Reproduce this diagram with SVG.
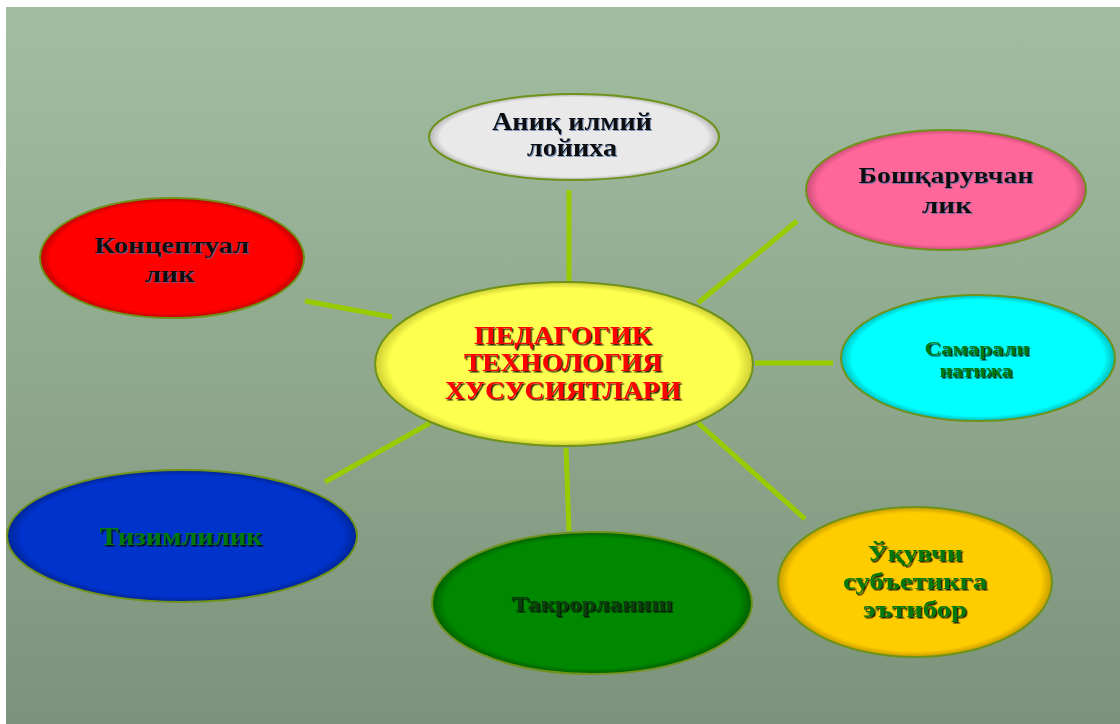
<svg xmlns="http://www.w3.org/2000/svg" width="1120" height="724" viewBox="0 0 1120 724">
<defs>
<linearGradient id="bg" x1="0" y1="0" x2="0" y2="1">
<stop offset="0" stop-color="#a2bea1"/>
<stop offset="1" stop-color="#7c937b"/>
</linearGradient>
<radialGradient id="gWhite"><stop offset="0.92" stop-color="#e9e9e9"/><stop offset="1" stop-color="#b5b5b5"/></radialGradient>
<radialGradient id="gPink"><stop offset="0.92" stop-color="#ff6699"/><stop offset="1" stop-color="#c94f78"/></radialGradient>
<radialGradient id="gRed"><stop offset="0.92" stop-color="#ff0000"/><stop offset="1" stop-color="#bb0000"/></radialGradient>
<radialGradient id="gCyan"><stop offset="0.92" stop-color="#00ffff"/><stop offset="1" stop-color="#00bcbc"/></radialGradient>
<radialGradient id="gYellow"><stop offset="0.92" stop-color="#ffff4f"/><stop offset="1" stop-color="#cccc33"/></radialGradient>
<radialGradient id="gBlue"><stop offset="0.92" stop-color="#0033cc"/><stop offset="1" stop-color="#002494"/></radialGradient>
<radialGradient id="gGreen"><stop offset="0.92" stop-color="#008800"/><stop offset="1" stop-color="#005e00"/></radialGradient>
<radialGradient id="gOrange"><stop offset="0.92" stop-color="#ffcc00"/><stop offset="1" stop-color="#c49c00"/></radialGradient>
<filter id="shDark" x="-10%" y="-20%" width="120%" height="140%">
<feDropShadow dx="1.5" dy="1.5" stdDeviation="0.3" flood-color="#000" flood-opacity="0.85"/>
</filter>
<filter id="shLight" x="-10%" y="-20%" width="120%" height="140%">
<feDropShadow dx="1" dy="1" stdDeviation="0.3" flood-color="#4d6fa8" flood-opacity="0.7"/>
</filter>
</defs>
<style>
.node ellipse { stroke: #6f921a; stroke-width: 2; }
text { font-family: "Liberation Serif", "Times New Roman", serif; font-weight: bold; text-anchor: middle; }
.blk { fill: #111; filter: url(#shLight); }
.grn { fill: #00780a; filter: url(#shDark); }
.red { fill: #ff0000; filter: url(#shDark); }
.dgr { fill: #0b3d0b; filter: url(#shDark); }
#connectors line { stroke: #99cc00; stroke-width: 5; }
</style>
<rect x="0" y="0" width="1120" height="724" fill="#ffffff"/>
<rect x="6" y="7" width="1114" height="717" fill="url(#bg)"/>
<g id="connectors">
<line x1="569" y1="190" x2="569" y2="281"/>
<line x1="698" y1="303" x2="797" y2="221"/>
<line x1="305" y1="301" x2="392" y2="317"/>
<line x1="755" y1="363" x2="833" y2="363"/>
<line x1="325" y1="482" x2="430" y2="423"/>
<line x1="566" y1="448" x2="569" y2="531"/>
<line x1="698" y1="423" x2="805" y2="519"/>
</g>
<g id="node-top" class="node">
<ellipse cx="574" cy="137" rx="145" ry="43" fill="url(#gWhite)"/>
<text class="blk" x="572" y="130" font-size="25" textLength="160" lengthAdjust="spacingAndGlyphs">Аниқ илмий</text>
<text class="blk" x="572" y="156" font-size="25" textLength="90" lengthAdjust="spacingAndGlyphs">лойиха</text>
</g>
<g id="node-pink" class="node">
<ellipse cx="946" cy="190" rx="140" ry="60" fill="url(#gPink)"/>
<text class="blk" x="946" y="183" font-size="24" textLength="175" lengthAdjust="spacingAndGlyphs">Бошқарувчан</text>
<text class="blk" x="947" y="213" font-size="24" textLength="50" lengthAdjust="spacingAndGlyphs">лик</text>
</g>
<g id="node-red" class="node">
<ellipse cx="172" cy="258" rx="132" ry="60" fill="url(#gRed)"/>
<text class="blk" x="172" y="253" font-size="24" textLength="155" lengthAdjust="spacingAndGlyphs">Концептуал</text>
<text class="blk" x="170" y="282" font-size="24" textLength="50" lengthAdjust="spacingAndGlyphs">лик</text>
</g>
<g id="node-center" class="node">
<ellipse cx="564" cy="364" rx="189" ry="82" fill="url(#gYellow)"/>
<text class="red" x="563" y="344" font-size="26" textLength="178" lengthAdjust="spacingAndGlyphs">ПЕДАГОГИК</text>
<text class="red" x="563" y="371" font-size="26" textLength="198" lengthAdjust="spacingAndGlyphs">ТЕХНОЛОГИЯ</text>
<text class="red" x="563" y="399" font-size="26" textLength="236" lengthAdjust="spacingAndGlyphs">ХУСУСИЯТЛАРИ</text>
</g>
<g id="node-cyan" class="node">
<ellipse cx="978" cy="358" rx="137" ry="63" fill="url(#gCyan)"/>
<text class="grn" x="977" y="355" font-size="19" textLength="105" lengthAdjust="spacingAndGlyphs">Самарали</text>
<text class="grn" x="976" y="377" font-size="19" textLength="73" lengthAdjust="spacingAndGlyphs">натижа</text>
</g>
<g id="node-blue" class="node">
<ellipse cx="182" cy="536" rx="175" ry="66" fill="url(#gBlue)"/>
<text class="grn" x="181" y="545" font-size="26" textLength="163" lengthAdjust="spacingAndGlyphs">Тизимлилик</text>
</g>
<g id="node-green" class="node">
<ellipse cx="592" cy="603" rx="160" ry="71" fill="url(#gGreen)"/>
<text class="dgr" x="592" y="611" font-size="22" textLength="161" lengthAdjust="spacingAndGlyphs">Такрорланиш</text>
</g>
<g id="node-orange" class="node">
<ellipse cx="915" cy="582" rx="137" ry="75" fill="url(#gOrange)"/>
<text class="grn" x="915" y="561" font-size="24" textLength="95" lengthAdjust="spacingAndGlyphs">Ўқувчи</text>
<text class="grn" x="915" y="589" font-size="24" textLength="144" lengthAdjust="spacingAndGlyphs">субъетикга</text>
<text class="grn" x="915" y="617" font-size="24" textLength="104" lengthAdjust="spacingAndGlyphs">эътибор</text>
</g>
</svg>
